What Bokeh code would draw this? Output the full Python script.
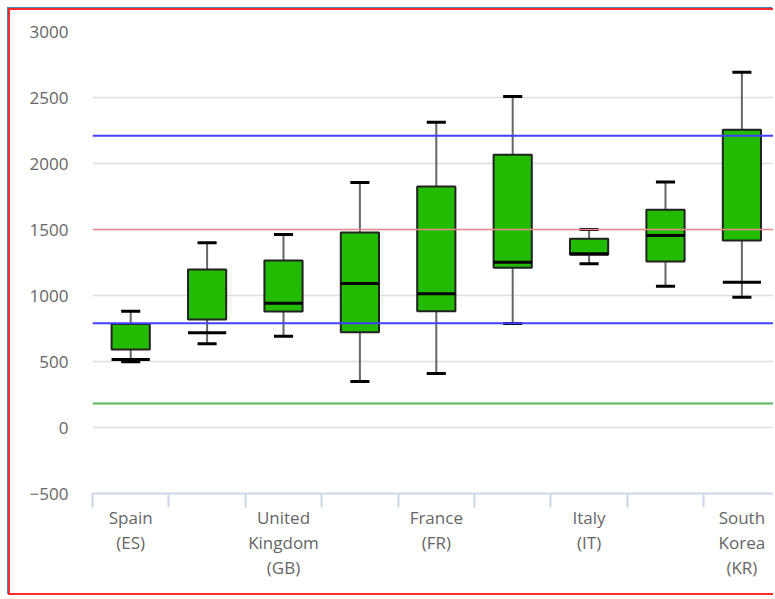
from bokeh.plotting import figure
from bokeh.models import FixedTicker, SingleIntervalTicker, Span, Range1d, ColumnDataSource
from bokeh.transform import dodge
from bokeh.embed import file_html
from bokeh.resources import INLINE

# ---- data ----
labels = ["Spain\n(ES)", "", "United\nKingdom\n(GB)", "", "France\n(FR)", "",
          "Italy\n(IT)", "", "South\nKorea\n(KR)"]
low    = [498, 634, 692, 348, 409, 788, 1240, 1071, 987]
q1     = [591, 818, 879, 722, 881, 1210, 1308, 1258, 1417]
median = [515, 717, 942, 1091, 1013, 1252, 1316, 1455, 1101]
q3     = [785, 1197, 1265, 1477, 1826, 2066, 1429, 1649, 2255]
high   = [881, 1400, 1462, 1856, 2313, 2508, 1500, 1859, 2692]
ref_mean = 1500
ref_upper = 2210
ref_lower = 790
ref_target = 182
y_ticks_interval = 500

x = list(range(len(labels)))
src = ColumnDataSource(dict(x=x, low=low, q1=q1, median=median, q3=q3, high=high))

p = figure(width=765, height=587, output_backend="svg", toolbar_location=None,
           x_range=Range1d(-0.5, 8.44), y_range=Range1d(-500, 3000),
           min_border_left=82, min_border_top=21, min_border_bottom=104, min_border_right=0)
p.styles = {"margin-left": "8px", "margin-top": "8px",
            "border-left": "2px solid #ff2a2a", "border-top": "2px solid #ff2a2a",
            "border-bottom": "2px solid #ff2a2a",
            "box-shadow": "-1px -1px 0 0 #4a7fc0"}
p.outline_line_color = None
p.background_fill_color = "white"
p.border_fill_color = "white"

# grid
p.xgrid.grid_line_color = None
p.ygrid.grid_line_color = "#dedede"
p.ygrid.grid_line_width = 1.5

# y axis
p.yaxis.ticker = SingleIntervalTicker(interval=y_ticks_interval)
p.yaxis.axis_line_color = None
p.yaxis.major_tick_line_color = None
p.yaxis.minor_tick_line_color = None
p.yaxis.major_label_standoff = 18
p.yaxis.major_label_text_font = "Open Sans"
p.yaxis.major_label_text_font_size = "17px"
p.yaxis.major_label_text_color = "#666666"

# x axis
p.xaxis.ticker = FixedTicker(ticks=[i for i in x if labels[i]],
                             minor_ticks=[i - 0.5 for i in range(len(labels) + 1)])
p.xaxis.major_label_overrides = {i: labels[i] for i in x if labels[i]}
p.xaxis.axis_line_color = "#ccd6eb"
p.xaxis.axis_line_width = 2
p.xaxis.major_tick_out = 0
p.xaxis.major_tick_in = 0
p.xaxis.major_tick_line_color = None
p.xaxis.minor_tick_out = 14
p.xaxis.minor_tick_in = 0
p.xaxis.minor_tick_line_color = "#ccd6eb"
p.xaxis.minor_tick_line_width = 2
p.xaxis.major_label_standoff = -2
p.xaxis.major_label_text_font = "Open Sans"
p.xaxis.major_label_text_font_size = "17px"
p.xaxis.major_label_text_color = "#666666"
p.xaxis.major_label_text_line_height = 1.1

# reference lines
for val, col, w in [(ref_upper, "#4040ff", 2), (ref_lower, "#4040ff", 2),
                    (ref_mean, "#ee8888", 1.5), (ref_target, "#5cb85c", 2)]:
    p.add_layout(Span(location=val, dimension="width", line_color=col, line_width=w))

# whisker stems
p.segment(x0="x", y0="low", x1="x", y1="high", source=src, line_color="#666666", line_width=2)
# boxes
p.vbar(x="x", bottom="q1", top="q3", width=0.5, source=src,
       fill_color="#22bb00", line_color="#222222", line_width=2)
# caps
p.segment(x0=dodge("x", -0.125), x1=dodge("x", 0.125), y0="high", y1="high",
          source=src, line_color="black", line_width=3)
p.segment(x0=dodge("x", -0.125), x1=dodge("x", 0.125), y0="low", y1="low",
          source=src, line_color="black", line_width=3)
# median
p.segment(x0=dodge("x", -0.25), x1=dodge("x", 0.25), y0="median", y1="median",
          source=src, line_color="black", line_width=3)

open("out.html", "w").write(file_html(p, INLINE))
